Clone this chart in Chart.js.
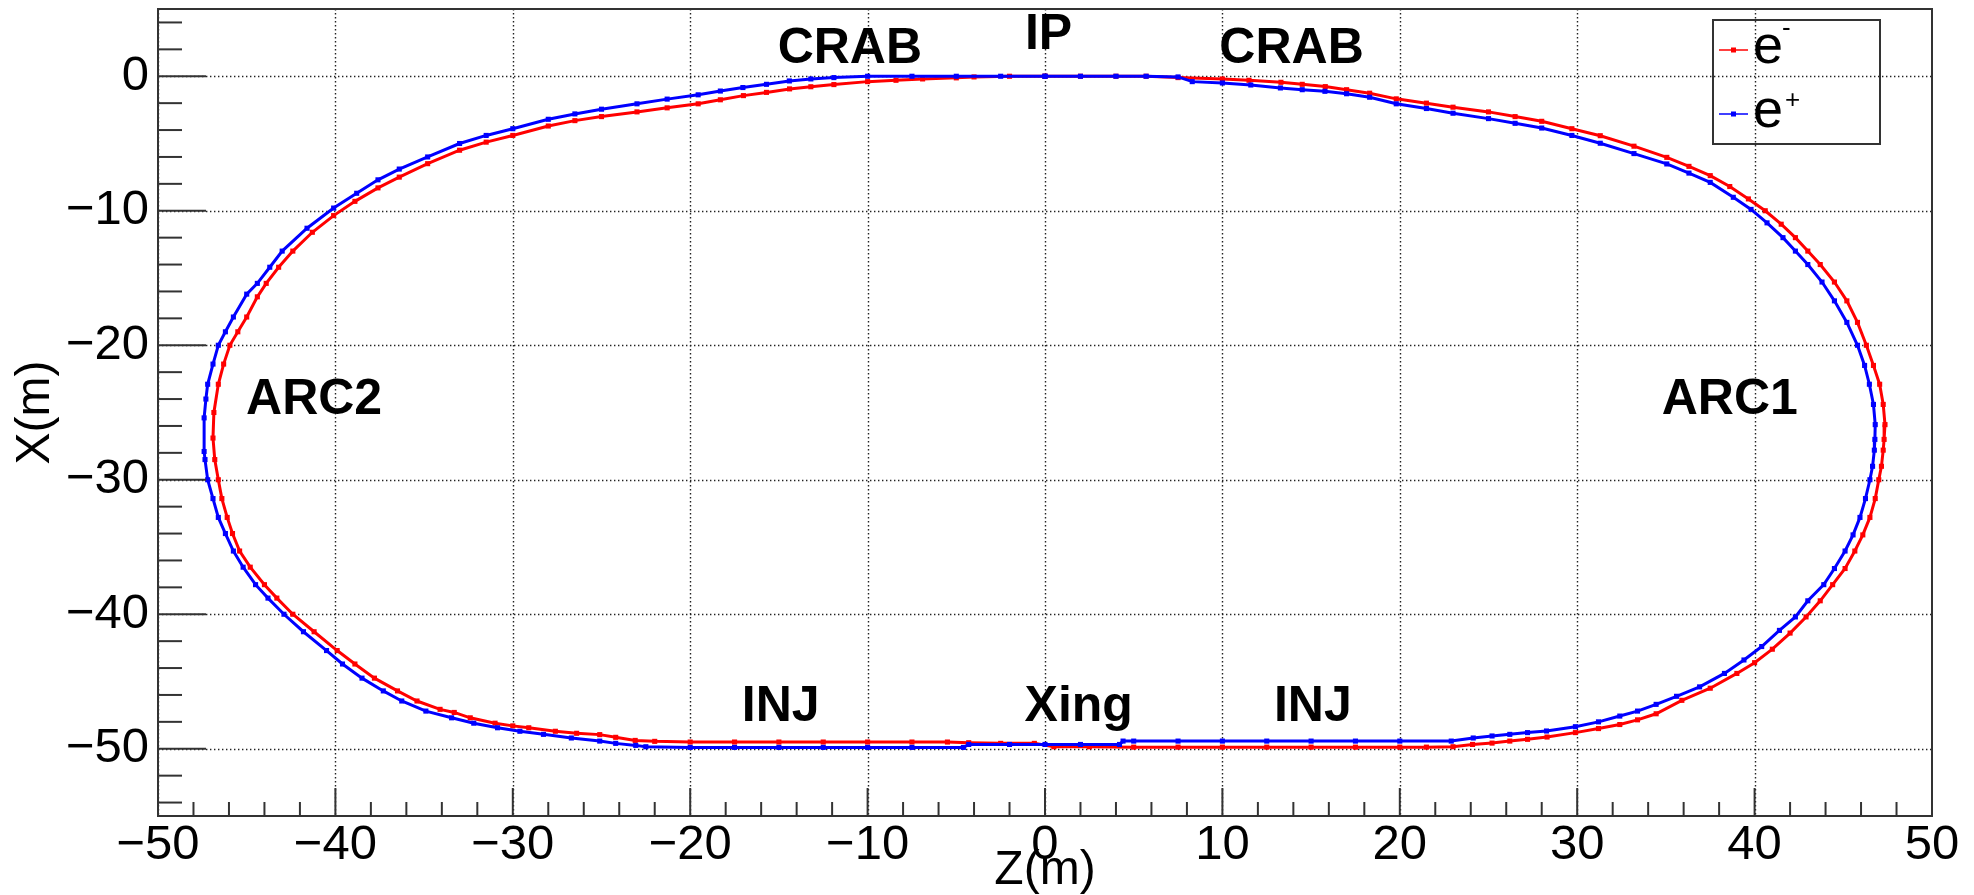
<!DOCTYPE html>
<html><head><meta charset="utf-8">
<script src="https://cdn.jsdelivr.net/npm/chart.js@4.4.1/dist/chart.umd.min.js"></script>
<style>html,body{margin:0;padding:0;background:#fff;overflow:hidden}canvas{display:block}</style>
</head><body>
<canvas id="c" width="1974" height="895"></canvas>
<script>
// ---------- data ----------
const seriesNames = ['e-', 'e+'];
const seriesColors = ['#ff0000', '#0000ff'];

// e- (red) orbit: Z (m)
const eMinusZ = [0,2,4,5.7,7.5,10,11.5,13.3,14.5,15.8,17,18.3,19.8,21.5,23,25,26.5,28,29.7,31.3,33.2,35.05,36.3,37.5,38.6,39.65,40.6,41.5,42.3,43.0,43.7,44.5,45.2,45.8,46.3,46.7,47.05,47.25,47.35,47.3,47.25,47.15,47.0,46.8,46.5,46.1,45.65,45.1,44.4,43.7,42.9,42.0,41.0,40.0,39.0,37.5,35.9,34.45,33.4,32.4,31.2,29.9,28.3,27.2,26.2,25.2,24.1,23,21.5,20,17.5,15,12.5,10,7.5,5,2.5,0.5,-0.6,-2.5,-4.3,-5.5,-7.5,-10,-12.5,-15,-17.5,-20,-22,-23.1,-24.2,-25.1,-26.4,-27.6,-29.1,-30.0,-31.0,-32.4,-33.3,-34.1,-35.4,-36.5,-37.8,-38.9,-39.9,-41.2,-42.4,-43.3,-44.0,-44.8,-45.4,-45.8,-46.1,-46.4,-46.6,-46.8,-46.9,-46.85,-46.6,-46.3,-45.95,-45.5,-45.0,-44.4,-43.9,-43.2,-42.4,-41.3,-40.1,-38.9,-37.6,-36.4,-34.8,-33.0,-31.5,-30.0,-28.0,-26.5,-25.0,-23.0,-21.3,-19.55,-18.3,-17.0,-15.7,-14.4,-13.2,-11.9,-10,-8.4,-6.9,-5,-4,-2,0];
// e- (red) orbit: X (m)
const eMinusX = [0,0,0,0,-0.1,-0.2,-0.3,-0.45,-0.6,-0.77,-1.0,-1.26,-1.68,-2.0,-2.3,-2.65,-3.0,-3.35,-3.9,-4.42,-5.2,-6.03,-6.7,-7.39,-8.2,-9.12,-10.0,-11.0,-12.0,-13.0,-14.0,-15.3,-16.7,-18.3,-20.0,-21.5,-22.9,-24.4,-25.9,-27.0,-27.8,-29.0,-30.0,-31.4,-32.8,-34.1,-35.3,-36.6,-37.8,-39.0,-40.2,-41.4,-42.6,-43.6,-44.4,-45.5,-46.4,-47.4,-47.85,-48.2,-48.5,-48.8,-49.13,-49.3,-49.43,-49.58,-49.68,-49.85,-49.88,-49.88,-49.88,-49.88,-49.88,-49.88,-49.88,-49.88,-49.85,-49.85,-49.6,-49.6,-49.55,-49.5,-49.5,-49.5,-49.5,-49.5,-49.5,-49.5,-49.45,-49.38,-49.15,-48.95,-48.85,-48.7,-48.44,-48.3,-48.1,-47.7,-47.3,-47.07,-46.45,-45.7,-44.75,-43.7,-42.7,-41.3,-40.0,-38.8,-37.8,-36.5,-35.3,-34.0,-32.8,-31.4,-30.0,-28.5,-26.9,-25.0,-22.9,-21.4,-20.0,-19.0,-17.9,-16.4,-15.4,-14.2,-13.0,-11.6,-10.36,-9.3,-8.3,-7.5,-6.5,-5.5,-4.9,-4.4,-3.7,-3.3,-3.0,-2.65,-2.35,-2.05,-1.75,-1.44,-1.2,-0.94,-0.78,-0.62,-0.4,-0.3,-0.2,-0.12,-0.05,0,0];

// e+ (blue) orbit: Z (m)
const ePlusZ = [0,2,4,5.7,7.5,8.3,10,11.6,13.27,14.5,15.78,17,18.3,19.8,21.5,23,25,26.5,28,29.7,31.3,33.2,35.05,36.3,37.5,38.8,39.8,40.7,41.6,42.3,43.0,43.8,44.5,45.2,45.8,46.2,46.47,46.7,46.8,46.78,46.75,46.65,46.5,46.25,45.94,45.55,45.1,44.5,43.9,43.0,42.3,41.4,40.4,39.4,38.3,36.9,35.6,34.45,33.4,32.4,31.2,29.9,28.27,27.2,26.2,25.2,24.14,22.9,20,17.5,15,12.5,10,7.5,5,4.4,4.2,2,0,-2,-4.3,-4.6,-7.5,-10,-12.5,-15,-17.5,-20,-22.5,-23.07,-24.2,-25.1,-26.7,-28.27,-29.6,-30.86,-32.2,-33.45,-34.9,-36.26,-37.3,-38.5,-39.6,-40.5,-41.8,-42.9,-43.8,-44.5,-45.2,-45.75,-46.2,-46.6,-46.9,-47.2,-47.35,-47.4,-47.4,-47.3,-47.2,-46.9,-46.6,-46.2,-45.75,-45.0,-44.4,-43.7,-43.0,-41.6,-40.1,-38.8,-37.6,-36.4,-34.8,-33.0,-31.5,-30.0,-28.0,-26.5,-25.0,-23.0,-21.3,-19.55,-18.3,-17.03,-15.7,-14.41,-13.2,-11.9,-10,-7.5,-5,-2.5,0];
// e+ (blue) orbit: X (m)
const ePlusX = [0,0,0,0,-0.05,-0.4,-0.5,-0.65,-0.87,-1.0,-1.12,-1.3,-1.56,-2.05,-2.4,-2.75,-3.15,-3.5,-3.85,-4.4,-4.98,-5.75,-6.52,-7.2,-7.89,-9.0,-9.9,-10.9,-12.0,-13.0,-14.0,-15.3,-16.7,-18.3,-20.0,-21.5,-22.9,-24.4,-25.9,-27.0,-27.8,-29.0,-30.0,-31.4,-32.8,-34.1,-35.3,-36.6,-37.8,-39.0,-40.2,-41.2,-42.4,-43.4,-44.4,-45.4,-46.1,-46.7,-47.2,-47.57,-48.0,-48.36,-48.68,-48.8,-48.93,-49.05,-49.2,-49.43,-49.43,-49.43,-49.43,-49.43,-49.43,-49.43,-49.43,-49.43,-49.68,-49.68,-49.68,-49.68,-49.68,-49.9,-49.9,-49.9,-49.9,-49.9,-49.9,-49.9,-49.85,-49.75,-49.6,-49.43,-49.2,-48.93,-48.7,-48.44,-48.1,-47.7,-47.2,-46.45,-45.7,-44.75,-43.7,-42.7,-41.3,-40.0,-38.8,-37.8,-36.5,-35.3,-34.0,-32.8,-31.4,-30.0,-28.5,-27.9,-25.4,-24.0,-22.9,-21.4,-20.0,-19.0,-17.9,-16.2,-15.4,-14.2,-13.0,-11.3,-9.8,-8.7,-7.7,-6.9,-6.0,-5.0,-4.4,-3.9,-3.2,-2.8,-2.45,-2.05,-1.7,-1.38,-1.1,-0.84,-0.6,-0.35,-0.2,-0.1,0,0,0,0,0];

// axes ticks
const xTickValues = [-50,-40,-30,-20,-10,0,10,20,30,40,50];
const xTickLabels = ['\u221250','\u221240','\u221230','\u221220','\u221210','0','10','20','30','40','50'];
const yTickValues = [0,-10,-20,-30,-40,-50];
const yTickLabels = ['0','\u221210','\u221220','\u221230','\u221240','\u221250'];

// region annotations (text and the data point where each is anchored)
const regionLabels = ['CRAB','IP','CRAB','ARC2','ARC1','INJ','Xing','INJ'];
const regionLabelZ = [-11.0, 0.2, 13.9, -41.2, 38.6, -14.9, 1.9, 15.1];
const regionLabelX = [0.95, 2.05, 0.95, -25.1, -25.1, -47.95, -47.95, -47.95];

// ---------- rendering ----------
const FONT = "'Liberation Sans', Arial, Helvetica, sans-serif";
const FRAME = '#333333';
const toPts = (zs, xs) => zs.map((z, i) => ({x: z, y: xs[i]}));

const rootStyle = {
  id: 'rootStyle',
  beforeDatasetsDraw(chart) {
    const {ctx, chartArea: a, scales: {x, y}} = chart;
    ctx.save();
    ctx.beginPath(); ctx.rect(a.left, a.top, a.right - a.left, a.bottom - a.top); ctx.clip();
    ctx.strokeStyle = '#222'; ctx.lineWidth = 1.4; ctx.setLineDash([1.4, 2.6]);
    xTickValues.forEach(v => {
      const px = Math.round(x.getPixelForValue(v)) + 0.5;
      ctx.beginPath(); ctx.moveTo(px, a.top); ctx.lineTo(px, a.bottom); ctx.stroke();
    });
    yTickValues.forEach(v => {
      const py = Math.round(y.getPixelForValue(v)) + 0.5;
      ctx.beginPath(); ctx.moveTo(a.left, py); ctx.lineTo(a.right, py); ctx.stroke();
    });
    ctx.restore();
  },
  afterDatasetsDraw(chart) {
    const {ctx, chartArea: a, scales: {x, y}} = chart;
    ctx.save();
    ctx.strokeStyle = FRAME; ctx.lineWidth = 2; ctx.setLineDash([]);
    // x ticks (inside, from bottom)
    for (let v = Math.ceil(x.min); v <= x.max; v++) {
      if (v % 2 !== 0) continue;
      const major = v % 10 === 0;
      const px = x.getPixelForValue(v);
      ctx.beginPath(); ctx.moveTo(px, a.bottom); ctx.lineTo(px, a.bottom - (major ? 28 : 14)); ctx.stroke();
    }
    // y ticks (inside, from left)
    for (let v = Math.ceil(y.min); v <= y.max; v++) {
      if (v % 2 !== 0) continue;
      const major = v % 10 === 0;
      const py = y.getPixelForValue(v);
      ctx.beginPath(); ctx.moveTo(a.left, py); ctx.lineTo(a.left + (major ? 48 : 24), py); ctx.stroke();
    }
    // frame
    ctx.strokeRect(a.left, a.top, a.right - a.left, a.bottom - a.top);

    // region labels
    ctx.fillStyle = '#000';
    ctx.font = "bold 50px " + FONT;
    ctx.textAlign = 'center'; ctx.textBaseline = 'alphabetic';
    regionLabels.forEach((t, i) => {
      ctx.fillText(t, x.getPixelForValue(regionLabelZ[i]), y.getPixelForValue(regionLabelX[i]));
    });

    // legend (transparent box, top-right)
    const bx = a.right - 219, by = a.top + 11, bw = 167, bh = 124;
    ctx.strokeStyle = FRAME; ctx.lineWidth = 2;
    ctx.strokeRect(bx, by, bw, bh);
    seriesNames.forEach((name, i) => {
      const cy = by + 30 + i * 64;
      ctx.strokeStyle = seriesColors[i]; ctx.lineWidth = 1.5;
      ctx.beginPath(); ctx.moveTo(bx + 6, cy); ctx.lineTo(bx + 35, cy); ctx.stroke();
      ctx.fillStyle = seriesColors[i];
      ctx.fillRect(bx + 18, cy - 2.5, 5, 5);
      ctx.fillStyle = '#000';
      ctx.textAlign = 'left'; ctx.textBaseline = 'alphabetic';
      ctx.font = "54px " + FONT;
      ctx.fillText(name[0], bx + 40, cy + 13);
      ctx.font = "26px " + FONT;
      if (name[1] === '-') ctx.fillText('-', bx + 69, cy - 14);
      else ctx.fillText('+', bx + 72, cy - 6);
    });
    ctx.restore();
  }
};

const mkSet = (i, zs, xs, order) => ({
  label: seriesNames[i], data: toPts(zs, xs),
  borderColor: seriesColors[i], backgroundColor: seriesColors[i],
  showLine: true, borderWidth: 3, tension: 0,
  pointStyle: 'rect', pointRadius: 3.6, pointBorderWidth: 0, pointHoverRadius: 3.6,
  order: order
});

new Chart(document.getElementById('c'), {
  type: 'scatter',
  data: { datasets: [ mkSet(0, eMinusZ, eMinusX, 1), mkSet(1, ePlusZ, ePlusX, 0) ] },
  options: {
    responsive: false, animation: false, devicePixelRatio: 1, events: [],
    layout: { padding: { top: 9, right: 42, left: 0, bottom: 0 } },
    plugins: { legend: { display: false }, tooltip: { enabled: false } },
    scales: {
      x: {
        type: 'linear', position: 'bottom', min: -50, max: 50,
        afterBuildTicks: s => { s.ticks = xTickValues.map(v => ({ value: v })); },
        afterFit: s => { s.height = 79; s.paddingLeft = 0; s.paddingRight = 0; },
        grid: { display: false, drawTicks: false }, border: { display: false },
        ticks: { color: '#000', padding: 4.5, maxRotation: 0, autoSkip: false,
                 font: { family: FONT, size: 49, lineHeight: 1 },
                 callback: (v, i) => xTickLabels[i] },
        title: { display: true, text: 'Z(m)', color: '#000',
                 font: { family: FONT, size: 48, lineHeight: 1 }, padding: { top: 0, bottom: 0.5 } }
      },
      y: {
        type: 'linear', position: 'left', min: -55, max: 5,
        afterBuildTicks: s => { s.ticks = yTickValues.map(v => ({ value: v })); },
        afterFit: s => { s.width = 158; s.paddingTop = 0; s.paddingBottom = 0; },
        grid: { display: false, drawTicks: false }, border: { display: false },
        ticks: { color: '#000', padding: 9, autoSkip: false,
                 font: { family: FONT, size: 49, lineHeight: 1 },
                 callback: (v, i) => yTickLabels[i] },
        title: { display: true, text: 'X(m)', color: '#000',
                 font: { family: FONT, size: 48, lineHeight: 1 }, padding: { top: 11.5, bottom: 0 } }
      }
    }
  },
  plugins: [rootStyle]
});
</script>
</body></html>
